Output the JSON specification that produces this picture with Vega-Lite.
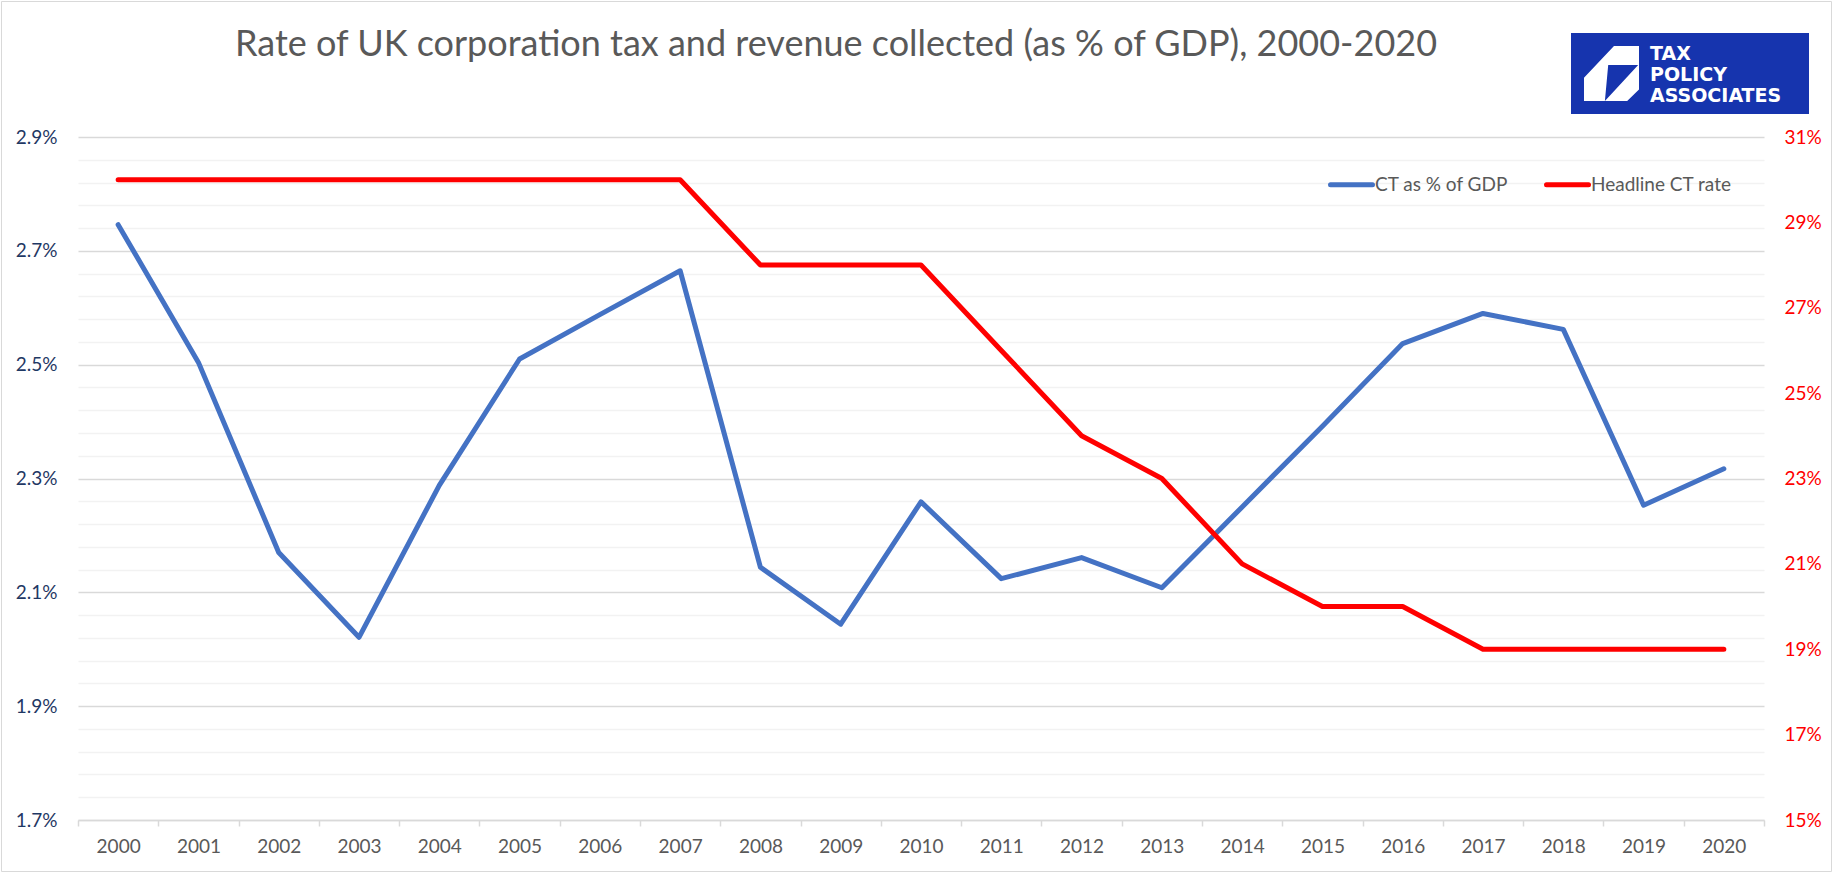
{
  "$schema": "https://vega.github.io/schema/vega-lite/v6.json",
  "width": 1686,
  "height": 683,
  "autosize": {"type": "none"},
  "padding": {"left": 78, "top": 137, "right": 72, "bottom": 56},
  "background": "white",
  "title": {
    "text": "Rate of UK corporation tax and revenue collected (as % of GDP), 2000-2020",
    "frame": "group",
    "anchor": "middle",
    "dx": -85,
    "offset": 49,
    "dy": 140,
    "baseline": "alphabetic",
    "font": "Lato",
    "fontSize": 36,
    "fontWeight": "normal",
    "color": "#595959"
  },
  "config": {"view": {"stroke": null}, "font": "Lato"},
  "data": {
    "values": [
      {"year": "2000", "series": "CT as % of GDP", "value": 2.746},
      {"year": "2001", "series": "CT as % of GDP", "value": 2.504},
      {"year": "2002", "series": "CT as % of GDP", "value": 2.170},
      {"year": "2003", "series": "CT as % of GDP", "value": 2.021},
      {"year": "2004", "series": "CT as % of GDP", "value": 2.288},
      {"year": "2005", "series": "CT as % of GDP", "value": 2.510},
      {"year": "2006", "series": "CT as % of GDP", "value": 2.588},
      {"year": "2007", "series": "CT as % of GDP", "value": 2.665},
      {"year": "2008", "series": "CT as % of GDP", "value": 2.144},
      {"year": "2009", "series": "CT as % of GDP", "value": 2.044},
      {"year": "2010", "series": "CT as % of GDP", "value": 2.259},
      {"year": "2011", "series": "CT as % of GDP", "value": 2.124},
      {"year": "2012", "series": "CT as % of GDP", "value": 2.161},
      {"year": "2013", "series": "CT as % of GDP", "value": 2.108},
      {"year": "2014", "series": "CT as % of GDP", "value": 2.250},
      {"year": "2015", "series": "CT as % of GDP", "value": 2.392},
      {"year": "2016", "series": "CT as % of GDP", "value": 2.537},
      {"year": "2017", "series": "CT as % of GDP", "value": 2.590},
      {"year": "2018", "series": "CT as % of GDP", "value": 2.562},
      {"year": "2019", "series": "CT as % of GDP", "value": 2.253},
      {"year": "2020", "series": "CT as % of GDP", "value": 2.317},
      {"year": "2000", "series": "Headline CT rate", "value": 30},
      {"year": "2001", "series": "Headline CT rate", "value": 30},
      {"year": "2002", "series": "Headline CT rate", "value": 30},
      {"year": "2003", "series": "Headline CT rate", "value": 30},
      {"year": "2004", "series": "Headline CT rate", "value": 30},
      {"year": "2005", "series": "Headline CT rate", "value": 30},
      {"year": "2006", "series": "Headline CT rate", "value": 30},
      {"year": "2007", "series": "Headline CT rate", "value": 30},
      {"year": "2008", "series": "Headline CT rate", "value": 28},
      {"year": "2009", "series": "Headline CT rate", "value": 28},
      {"year": "2010", "series": "Headline CT rate", "value": 28},
      {"year": "2011", "series": "Headline CT rate", "value": 26},
      {"year": "2012", "series": "Headline CT rate", "value": 24},
      {"year": "2013", "series": "Headline CT rate", "value": 23},
      {"year": "2014", "series": "Headline CT rate", "value": 21},
      {"year": "2015", "series": "Headline CT rate", "value": 20},
      {"year": "2016", "series": "Headline CT rate", "value": 20},
      {"year": "2017", "series": "Headline CT rate", "value": 19},
      {"year": "2018", "series": "Headline CT rate", "value": 19},
      {"year": "2019", "series": "Headline CT rate", "value": 19},
      {"year": "2020", "series": "Headline CT rate", "value": 19}
    ]
  },
  "layer": [
    {
      "transform": [{"filter": "datum.series === 'CT as % of GDP'"}],
      "mark": {"type": "line", "strokeWidth": 5, "strokeCap": "round", "strokeJoin": "round"},
      "encoding": {
        "x": {
          "field": "year", "type": "ordinal", "bandPosition": 0.5,
          "scale": {"type": "band", "paddingInner": 0, "paddingOuter": 0},
          "axis": {
            "title": null, "labelAngle": 0, "grid": false,
            "domainColor": "#D9D9D9", "domainWidth": 1.5,
            "tickColor": "#D9D9D9", "tickWidth": 1.5, "tickSize": 6, "tickBand": "extent",
            "labelFont": "Lato", "labelFontSize": 19, "labelColor": "#595959", "labelPadding": 11
          }
        },
        "y": {
          "field": "value", "type": "quantitative",
          "scale": {"domain": [1.7, 2.9], "nice": false, "zero": false},
          "axis": {
            "title": null, "orient": "left",
            "values": [1.7, 1.74, 1.78, 1.82, 1.86, 1.9, 1.94, 1.98, 2.02, 2.06, 2.1, 2.14, 2.18, 2.22, 2.26, 2.3, 2.34, 2.38, 2.42, 2.46, 2.5, 2.54, 2.58, 2.62, 2.66, 2.7, 2.74, 2.78, 2.82, 2.86, 2.9],
            "labelExpr": "round(datum.value*100) % 20 == 10 ? format(datum.value, '.1f') + '%' : ''",
            "grid": true,
            "gridColor": {"condition": {"test": "round(datum.value*100) % 20 == 10", "value": "#D9D9D9"}, "value": "#F2F2F2"},
            "gridWidth": 1.5,
            "domain": false, "ticks": false,
            "labelOverlap": false, "labelFlush": false,
            "labelPadding": 21, "labelColor": "#1F3864", "labelFont": "Lato", "labelFontSize": 19
          }
        },
        "color": {
          "field": "series", "type": "nominal",
          "scale": {"domain": ["CT as % of GDP", "Headline CT rate"], "range": ["#4472C4", "#FF0000"]},
          "legend": {
            "title": null, "orient": "none", "legendX": 1250, "legendY": 24,
            "direction": "horizontal", "symbolType": "stroke", "symbolSize": 1764,
            "symbolStrokeWidth": 5, "labelFont": "Lato", "labelFontSize": 19,
            "labelColor": "#595959", "labelOffset": 0, "columnPadding": 27, "padding": 0,
            "encode": {"symbols": {"update": {"strokeCap": {"value": "round"}}}}
          }
        }
      }
    },
    {
      "transform": [{"filter": "datum.series === 'Headline CT rate'"}],
      "mark": {"type": "line", "strokeWidth": 5, "strokeCap": "round", "strokeJoin": "round"},
      "encoding": {
        "x": {"field": "year", "type": "ordinal", "bandPosition": 0.5},
        "y": {
          "field": "value", "type": "quantitative",
          "scale": {"domain": [15, 31], "nice": false, "zero": false},
          "axis": {
            "title": null, "orient": "right",
            "values": [15, 17, 19, 21, 23, 25, 27, 29, 31],
            "labelExpr": "datum.value + '%'",
            "grid": false, "domain": false, "ticks": false,
            "labelOverlap": false, "labelFlush": false,
            "labelPadding": 20, "labelColor": "#FF0000", "labelFont": "Lato", "labelFontSize": 19
          }
        },
        "color": {"field": "series", "type": "nominal"}
      }
    },
    {
      "data": {"values": [{"icon": "logo"}]},
      "mark": {"type": "point", "opacity": 0, "filled": true, "color": "#FFFFFF"},
      "encoding": {
        "shape": {
          "field": "icon", "type": "nominal",
          "scale": {"domain": ["logo"], "range": ["M0.09,-1L1,-1L1,0.58L0.57,1L-1,1L-1,0.15ZM-0.12,-0.31L-0.24,1L0.97,-0.31Z"]},
          "legend": {
            "title": null, "orient": "none", "legendX": 1493, "legendY": -104,
            "fillColor": "#1634AE", "padding": 13, "symbolSize": 3025, "symbolFillColor": "#FFFFFF",
            "symbolStrokeWidth": 0, "symbolOpacity": 1, "labelExpr": "''", "labelOffset": 157,
            "encode": {"symbols": {"update": {"opacity": {"value": 1}, "fillOpacity": {"value": 1}, "fill": {"value": "#FFFFFF"}, "stroke": {"value": "transparent"}}}}
          }
        }
      }
    },
    {
      "data": {"values": [{"logo": "TAX"}, {"logo": "POLICY"}, {"logo": "ASSOCIATES"}]},
      "mark": {"type": "point", "opacity": 0},
      "encoding": {
        "strokeDash": {
          "field": "logo", "type": "nominal",
          "scale": {"domain": ["TAX", "POLICY", "ASSOCIATES"]},
          "legend": {
            "title": null, "orient": "none", "legendX": 1493, "legendY": -93,
            "padding": 0, "symbolSize": 100,
            "symbolOpacity": 0, "labelOffset": 60, "rowPadding": 1,
            "labelFont": "DejaVu Sans", "labelFontWeight": "bold", "labelFontSize": 19,
            "labelColor": "white",
            "encode": {"symbols": {"update": {"opacity": {"value": 0}}}}
          }
        }
      }
    },
    {
      "data": {"values": [{"frame": "border"}]},
      "mark": {"type": "point", "color": "transparent", "size": 0, "strokeWidth": 0},
      "encoding": {
        "opacity": {
          "field": "frame", "type": "ordinal",
          "scale": {"domain": ["border"], "range": [0]},
          "legend": {
            "title": null, "orient": "none", "legendX": -77, "legendY": -136,
            "padding": 430, "strokeColor": "#D9D9D9", "symbolSize": 100,
            "symbolStrokeWidth": 0, "symbolStrokeColor": "transparent", "symbolFillColor": "transparent",
            "labelExpr": "''", "labelFontSize": 1, "labelOffset": 960,
            "encode": {"symbols": {"update": {"stroke": {"value": "transparent"}, "fill": {"value": "transparent"}}}}
          }
        }
      }
    }
  ],
  "resolve": {"scale": {"y": "independent"}}
}
